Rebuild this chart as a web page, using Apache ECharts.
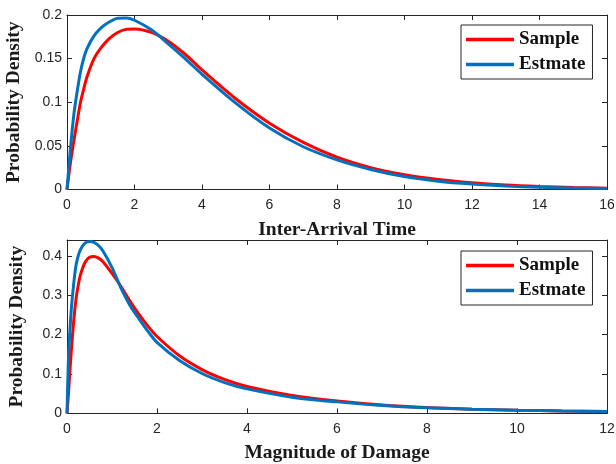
<!DOCTYPE html>
<html>
<head>
<meta charset="utf-8">
<script src="https://cdn.jsdelivr.net/npm/echarts@6/dist/echarts.min.js"></script>
<style>
html,body{margin:0;padding:0;background:#fff;}
#chart{width:616px;height:464px;}
</style>
</head>
<body>
<div id="chart"></div>
<script>
// ---- Data ----
const seriesNames = ['Sample', 'Estmate'];

// Top panel: Inter-Arrival Time
const topX = [0, 0.1, 0.2, 0.3, 0.4, 0.5, 0.6, 0.8, 1.0, 1.25, 1.5, 1.75, 2.0, 2.5, 3, 3.5, 4, 5, 6, 7, 8, 9, 10, 11, 12, 13, 14, 15, 16];
const topSample = [0, 0.03, 0.055, 0.078, 0.1, 0.116, 0.13, 0.15, 0.162, 0.173, 0.180, 0.1835, 0.184, 0.180, 0.170, 0.155, 0.137, 0.104, 0.076, 0.054, 0.037, 0.025, 0.017, 0.0115, 0.0078, 0.0052, 0.0035, 0.0023, 0.0015];
const topEstimate = [0, 0.046, 0.085, 0.112, 0.135, 0.151, 0.162, 0.176, 0.185, 0.192, 0.1963, 0.1967, 0.194, 0.183, 0.167, 0.150, 0.132, 0.099, 0.0705, 0.049, 0.034, 0.023, 0.0148, 0.0095, 0.0062, 0.004, 0.0026, 0.0017, 0.0011];

// Bottom panel: Magnitude of Damage
const botX = [0, 0.03, 0.06, 0.1, 0.15, 0.2, 0.25, 0.3, 0.4, 0.5, 0.6, 0.7, 0.8, 1.0, 1.2, 1.4, 1.6, 1.8, 2.0, 2.5, 3, 3.5, 4, 5, 6, 7, 8, 9, 10, 11, 12];
const botSample = [0, 0.045, 0.1, 0.165, 0.235, 0.29, 0.325, 0.352, 0.383, 0.396, 0.398, 0.394, 0.385, 0.355, 0.322, 0.285, 0.251, 0.221, 0.195, 0.146, 0.111, 0.086, 0.068, 0.045, 0.031, 0.021, 0.0145, 0.0105, 0.008, 0.0061, 0.0047];
const botEstimate = [0, 0.13, 0.2, 0.27, 0.33, 0.375, 0.4, 0.416, 0.432, 0.4365, 0.434, 0.426, 0.412, 0.370, 0.318, 0.274, 0.240, 0.208, 0.180, 0.134, 0.101, 0.078, 0.062, 0.041, 0.029, 0.020, 0.0142, 0.0104, 0.0078, 0.006, 0.0047];

// Tick labels
const topXTicks = [0, 2, 4, 6, 8, 10, 12, 14, 16];
const topYTicks = [0, 0.05, 0.1, 0.15, 0.2];
const botXTicks = [0, 2, 4, 6, 8, 10, 12];
const botYTicks = [0, 0.1, 0.2, 0.3, 0.4];

const xTitles = ['Inter-Arrival Time', 'Magnitude of Damage'];
const yTitle = 'Probability Density';

// ---- Styling ----
const AX = '#262626';
const RED = '#FF0000';
const BLUE = '#0072BD';

function fmt(ticks) {
  return function (v) {
    const r = Math.round(v * 10000) / 10000;
    return ticks.indexOf(r) >= 0 ? String(r) : '';
  };
}
function pairs(xs, ys) { return xs.map((x, i) => [x, ys[i]]); }

function mainX(grid, ticks, title) {
  return {
    gridIndex: grid, type: 'value', position: 'bottom',
    min: ticks[0], max: ticks[ticks.length - 1], interval: ticks[1] - ticks[0],
    axisLine: { show: true, onZero: false, lineStyle: { color: AX, width: 1 } },
    axisTick: { show: true, inside: true, length: 5, lineStyle: { color: AX } },
    axisLabel: { color: AX, fontFamily: 'Liberation Sans', fontSize: 14, margin: 9, formatter: fmt(ticks) },
    splitLine: { show: false },
    name: title, nameLocation: 'middle', nameGap: 30,
    nameTextStyle: { fontFamily: 'Liberation Serif', fontWeight: 'bold', fontSize: 19.5, color: '#1a1a1a' }
  };
}
function mirrorX(grid, ticks) {
  return {
    gridIndex: grid, type: 'value', position: 'top',
    min: ticks[0], max: ticks[ticks.length - 1], interval: ticks[1] - ticks[0],
    axisLine: { show: true, onZero: false, lineStyle: { color: AX, width: 1 } },
    axisTick: { show: true, inside: true, length: 5, lineStyle: { color: AX } },
    axisLabel: { show: false }, splitLine: { show: false }
  };
}
function mainY(grid, ticks, max) {
  return {
    gridIndex: grid, type: 'value', position: 'left',
    min: 0, max: max, interval: ticks[1] - ticks[0],
    axisLine: { show: true, onZero: false, lineStyle: { color: AX, width: 1 } },
    axisTick: { show: true, inside: true, length: 5, lineStyle: { color: AX } },
    axisLabel: { color: AX, fontFamily: 'Liberation Sans', fontSize: 14, margin: 5, formatter: fmt(ticks) },
    splitLine: { show: false },
    name: yTitle, nameLocation: 'middle', nameGap: 40, nameRotate: 90,
    nameTextStyle: { fontFamily: 'Liberation Serif', fontWeight: 'bold', fontSize: 19.5, color: '#1a1a1a' }
  };
}
function mirrorY(grid, ticks, max) {
  return {
    gridIndex: grid, type: 'value', position: 'right',
    min: 0, max: max, interval: ticks[1] - ticks[0],
    axisLine: { show: true, onZero: false, lineStyle: { color: AX, width: 1 } },
    axisTick: { show: true, inside: true, length: 5, lineStyle: { color: AX } },
    axisLabel: { show: false }, splitLine: { show: false }
  };
}
function line(name, color, xi, yi, data) {
  return {
    name: name, type: 'line', xAxisIndex: xi, yAxisIndex: yi,
    data: data, showSymbol: false, symbol: 'none',
    smooth: 0.3,
    lineStyle: { color: color, width: 3 }, itemStyle: { color: color },
    animation: false, clip: true
  };
}
function legend(top) {
  return {
    data: seriesNames.map(n => ({ name: n, icon: 'rect' })),
    orient: 'vertical', left: 461, top: top,
    itemWidth: 48, itemHeight: 3.5, itemGap: 6,
    padding: [5, 7, 5, 5],
    borderColor: AX, borderWidth: 1, backgroundColor: '#fff',
    textStyle: { fontFamily: 'Liberation Serif', fontWeight: 'bold', fontSize: 19, color: '#111' }
  };
}

const chart = echarts.init(document.getElementById('chart'), null, { renderer: 'canvas' });
chart.setOption({
  backgroundColor: '#fff',
  animation: false,
  grid: [
    { left: 67, top: 15, width: 540, height: 174.5, containLabel: false, outerBoundsMode: 'none' },
    { left: 67, top: 240, width: 540, height: 173.3, containLabel: false, outerBoundsMode: 'none' }
  ],
  xAxis: [
    mainX(0, topXTicks, xTitles[0]), mirrorX(0, topXTicks),
    mainX(1, botXTicks, xTitles[1]), mirrorX(1, botXTicks)
  ],
  yAxis: [
    mainY(0, topYTicks, 0.2), mirrorY(0, topYTicks, 0.2),
    mainY(1, botYTicks, 0.44), mirrorY(1, botYTicks, 0.44)
  ],
  legend: [legend(25), legend(251)],
  series: [
    line(seriesNames[0], RED, 0, 0, pairs(topX, topSample)),
    line(seriesNames[1], BLUE, 0, 0, pairs(topX, topEstimate)),
    line(seriesNames[0], RED, 2, 2, pairs(botX, botSample)),
    line(seriesNames[1], BLUE, 2, 2, pairs(botX, botEstimate))
  ]
});
</script>
</body>
</html>
